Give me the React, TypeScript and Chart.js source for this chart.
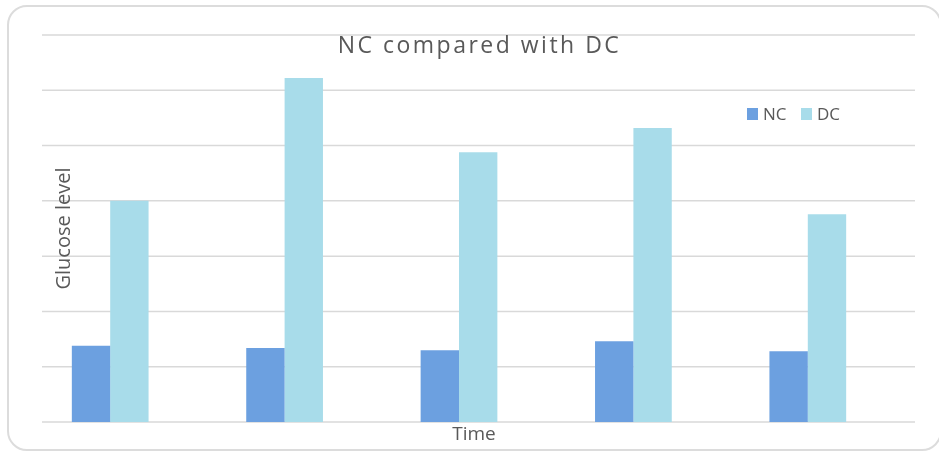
import React, { useEffect, useRef } from "react";
import { Chart, registerables } from "chart.js";

Chart.register(...registerables);

// Glucose readings at each time point
const timePoints = ["T1", "T2", "T3", "T4", "T5"];
const ncValues = [69, 67, 65, 73, 64];
const dcValues = [200, 311, 244, 266, 188];
const seriesNames = ["NC", "DC"];
const seriesColors = ["#6ca0e0", "#a8dcea"];

const chartTitle = "NC compared with DC";
const yTitle = "Glucose level";
const xTitle = "Time";

const TEXT_COLOR = "#595959";
const GRID_COLOR = "#d9d9d9";
const FONT = "'Open Sans', sans-serif";

// Horizontal gridlines span a slightly different band than the category axis
const GRID_LEFT = 42;
const GRID_RIGHT = 915;

const gridLines = {
  id: "gridLines",
  beforeDatasetsDraw(chart: Chart) {
    const { ctx } = chart;
    const y = chart.scales.y;
    ctx.save();
    ctx.strokeStyle = GRID_COLOR;
    ctx.lineWidth = 1.5;
    y.ticks.forEach((t) => {
      const py = y.getPixelForValue(t.value);
      ctx.beginPath();
      ctx.moveTo(GRID_LEFT, py);
      ctx.lineTo(GRID_RIGHT, py);
      ctx.stroke();
    });
    ctx.restore();
  },
};

// Title, axis titles and legend are painted inside the plot area
const overlayText = {
  id: "overlayText",
  afterDraw(chart: Chart) {
    const { ctx, chartArea } = chart;
    ctx.save();
    ctx.fillStyle = TEXT_COLOR;
    ctx.textBaseline = "alphabetic";

    // chart title
    ctx.font = `23px ${FONT}`;
    (ctx as any).letterSpacing = "2.5px";
    ctx.textAlign = "center";
    ctx.fillText(chartTitle, (GRID_LEFT + GRID_RIGHT) / 2 + 1, 53);
    (ctx as any).letterSpacing = "0px";

    // x axis title
    ctx.font = `19px ${FONT}`;
    ctx.fillText(xTitle, 474, 440);

    // y axis title (rotated)
    ctx.save();
    ctx.translate(70, (chartArea.top + chartArea.bottom) / 2);
    ctx.rotate(-Math.PI / 2);
    ctx.textAlign = "center";
    ctx.font = `20px ${FONT}`;
    ctx.fillText(yTitle, 0, 0);
    ctx.restore();

    // legend
    ctx.font = `17px ${FONT}`;
    ctx.textAlign = "left";
    const legendX = [747, 801];
    chart.data.datasets.forEach((ds, i) => {
      ctx.fillStyle = ds.backgroundColor as string;
      ctx.fillRect(legendX[i], 108, 11, 12);
      ctx.fillStyle = TEXT_COLOR;
      ctx.fillText(ds.label as string, legendX[i] + 16, 120);
    });
    ctx.restore();
  },
};

export default function App() {
  const canvasRef = useRef<HTMLCanvasElement | null>(null);

  useEffect(() => {
    if (!canvasRef.current) return;
    const chart = new Chart(canvasRef.current, {
      type: "bar",
      data: {
        labels: timePoints,
        datasets: [
          { label: seriesNames[0], data: ncValues, backgroundColor: seriesColors[0] },
          { label: seriesNames[1], data: dcValues, backgroundColor: seriesColors[1] },
        ],
      },
      options: {
        responsive: false,
        animation: false,
        layout: { padding: { left: 15, right: 44, top: 35, bottom: 21 } },
        datasets: { bar: { categoryPercentage: 0.44, barPercentage: 1.0 } },
        plugins: {
          legend: { display: false },
          title: { display: false },
          tooltip: { enabled: false },
        },
        scales: {
          x: {
            grid: { display: false },
            border: { display: false },
            ticks: { display: false },
          },
          y: {
            min: 0,
            max: 350,
            ticks: { display: false, stepSize: 50 },
            grid: { display: false },
            border: { display: false },
          },
        },
      },
      plugins: [gridLines, overlayText],
    });
    return () => chart.destroy();
  }, []);

  return (
    <div style={{ position: "fixed", left: 0, top: 0, width: 939, height: 451, background: "#fff", overflow: "hidden" }}>
      <div
        style={{
          position: "absolute",
          left: 7,
          top: 5,
          width: 931,
          height: 442,
          border: "2px solid #dcdcdc",
          borderRadius: 20,
        }}
      />
      <canvas ref={canvasRef} width={939} height={451} style={{ position: "absolute", left: 0, top: 0 }} />
    </div>
  );
}
